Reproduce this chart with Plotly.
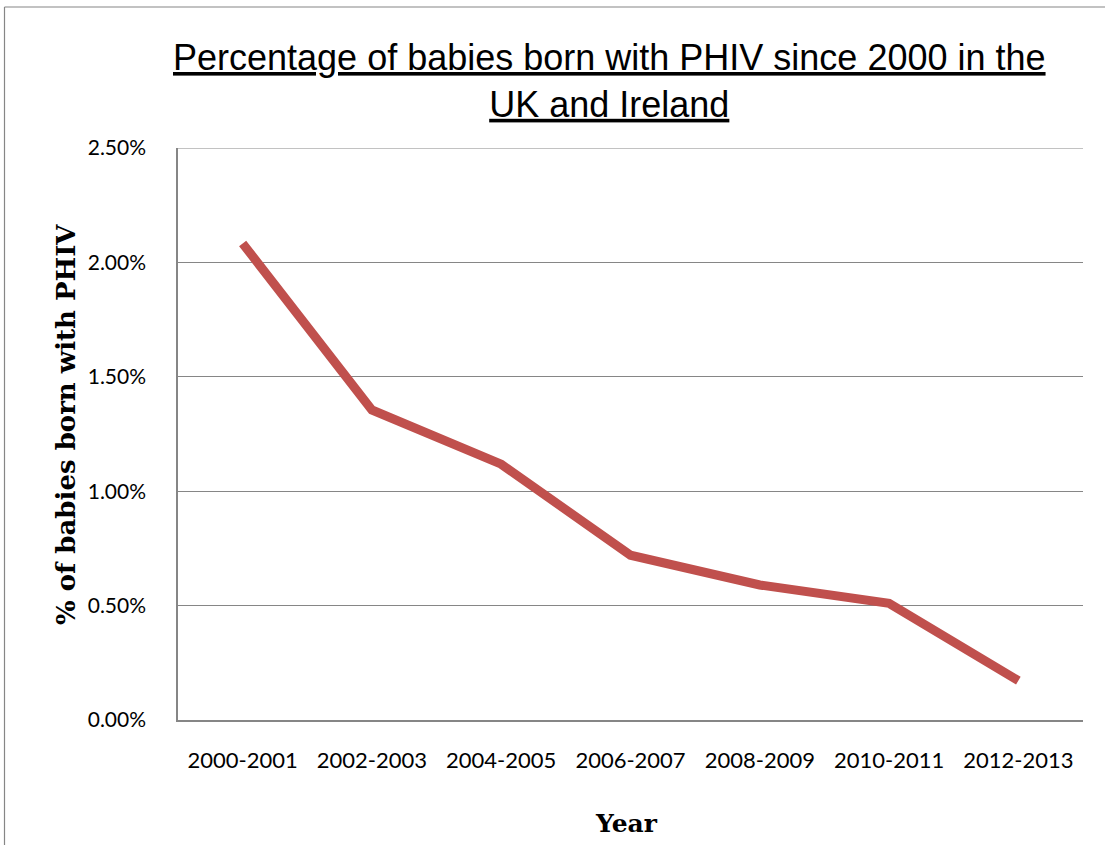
import plotly.graph_objects as go

categories = ["2000-2001", "2002-2003", "2004-2005", "2006-2007", "2008-2009", "2010-2011", "2012-2013"]
values = [0.02083, 0.01355, 0.01118, 0.0072, 0.0059, 0.0051, 0.00172]
ytick_vals = [0, 0.005, 0.01, 0.015, 0.02, 0.025]

W, H = 1105, 845
L, R, T, B = 178, 22, 148, 125
pw, ph = W - L - R, H - T - B

def px_x(p):
    return (p - L) / pw

def px_y(p):
    return (H - B - p) / ph

fig = go.Figure()
fig.add_trace(go.Scatter(
    x=categories, y=values, mode="lines",
    line=dict(color="#C0504D", width=9),
    hoverinfo="skip", showlegend=False,
))

fig.update_layout(
    width=W, height=H,
    margin=dict(l=L, r=R, t=T, b=B),
    paper_bgcolor="white", plot_bgcolor="white",
    font=dict(family="Lato, Open Sans, sans-serif", color="#000000"),
    xaxis=dict(
        type="category", range=[-0.5, 6.5],
        showline=True, linecolor="#868686", linewidth=1.5,
        showgrid=False, ticks="", zeroline=False,
        tickfont=dict(size=22, family="Lato, sans-serif"),
        ticklabelstandoff=20,
    ),
    yaxis=dict(
        range=[0, 0.025], tickvals=ytick_vals, tickformat=".2%",
        showline=True, linecolor="#868686", linewidth=1.5,
        showgrid=True, gridcolor="#868686", gridwidth=1.2,
        zeroline=False, ticks="",
        tickfont=dict(size=21, family="Lato, sans-serif"),
        ticklabelstandoff=26,
    ),
    annotations=[
        dict(text="<u>Percentage of babies born with PHIV since 2000 in the</u><br><u>UK and Ireland</u>",
             xref="paper", yref="paper", x=px_x(609), y=px_y(81),
             xanchor="center", yanchor="middle", showarrow=False,
             font=dict(size=36, family="Liberation Sans Narrow, Arial Narrow, sans-serif"),
             align="center"),
        dict(text="<b>% of babies born with PHIV</b>",
             xref="paper", yref="paper", x=px_x(66), y=px_y(425),
             xanchor="center", yanchor="middle", showarrow=False, textangle=-90,
             font=dict(size=26, family="DejaVu Serif, serif")),
        dict(text="<b>Year</b>",
             xref="paper", yref="paper", x=px_x(626), y=px_y(823),
             xanchor="center", yanchor="middle", showarrow=False,
             font=dict(size=25, family="DejaVu Serif, serif")),
    ],
    shapes=[
        dict(type="line", xref="paper", yref="y",
             x0=0, x1=1, y0=ytick_vals[-1], y1=ytick_vals[-1], line=dict(color="#868686", width=1.2)),
        dict(type="line", xref="paper", yref="paper",
             x0=px_x(4.5), x1=px_x(4.5), y0=px_y(7), y1=px_y(845), line=dict(color="#868686", width=1.2)),
        dict(type="line", xref="paper", yref="paper",
             x0=px_x(4.5), x1=px_x(1105), y0=px_y(7), y1=px_y(7), line=dict(color="#868686", width=1.2)),
    ],
)

fig.write_html("out.html")
